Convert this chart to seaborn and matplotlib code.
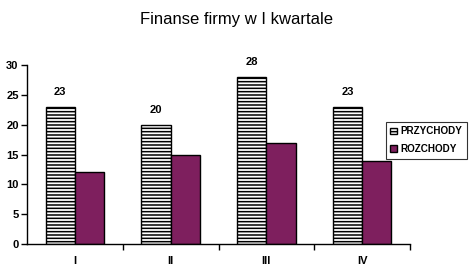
import matplotlib
matplotlib.use("Agg")
import matplotlib.pyplot as plt
import seaborn as sns
import pandas as pd
import numpy as np
from matplotlib.ticker import FixedLocator

quarters = ["I", "II", "III", "IV"]
przychody = [23, 20, 28, 23]
rozchody = [12, 15, 17, 14]
series = ["PRZYCHODY", "ROZCHODY"]

df = pd.DataFrame({
    "q": quarters * 2,
    "value": przychody + rozchody,
    "series": [series[0]] * 4 + [series[1]] * 4,
})

sns.set_style("white")
plt.rcParams["font.family"] = ["Liberation Sans", "DejaVu Sans"]
plt.rcParams["hatch.linewidth"] = 1.1
plt.rcParams["hatch.color"] = "black"
plt.rcParams["text.color"] = "black"
plt.rcParams["xtick.color"] = "black"
plt.rcParams["ytick.color"] = "black"
plt.rcParams["xtick.labelcolor"] = "black"
plt.rcParams["ytick.labelcolor"] = "black"

fig = plt.figure(figsize=(4.73, 2.76), dpi=100)
ax = fig.add_axes([0.057, 0.116, 0.810, 0.648])

palette = {series[0]: "white", series[1]: "#7E1F5E"}
sns.barplot(data=df, x="q", y="value", hue="series", palette=palette,
            width=0.61, edgecolor="black", linewidth=1.0, ax=ax,
            legend=True, saturation=1)

HATCH = "-----"
for bar in ax.containers[0]:
    bar.set_hatch(HATCH)

ax.bar_label(ax.containers[0], labels=[str(v) for v in przychody],
             padding=7, fontsize=8, fontweight="bold", color="black")

ax.set_ylim(0, 30)
ax.set_xlim(-0.5, 3.5)
ax.set_yticks([0, 5, 10, 15, 20, 25, 30])
ax.set_xlabel("")
ax.set_ylabel("")
for lab in ax.get_yticklabels() + ax.get_xticklabels():
    lab.set_fontweight("bold")
    lab.set_fontsize(8)
    lab.set_color("black")
ax.tick_params(axis="y", which="major", length=4, width=1, direction="out", left=True, pad=2)
ax.tick_params(axis="x", which="major", length=0, pad=9)
ax.xaxis.set_minor_locator(FixedLocator([0.5, 1.5, 2.5, 3.5]))
ax.tick_params(axis="x", which="minor", length=4, width=1, direction="out", bottom=True)
for s in ["top", "right"]:
    ax.spines[s].set_visible(False)
for s in ["left", "bottom"]:
    ax.spines[s].set_color("black")
    ax.spines[s].set_linewidth(1.0)

fig.suptitle("Finanse firmy w I kwartale", y=0.955, fontsize=12, color="black")

leg = ax.legend(loc="upper left", bbox_to_anchor=(0.816, 0.558),
                bbox_transform=fig.transFigure, frameon=True, fancybox=False,
                edgecolor="black", handlelength=0.7, handleheight=0.7,
                handletextpad=0.3, borderpad=0.45, labelspacing=0.8,
                borderaxespad=0.0,
                prop={"weight": "bold", "size": 7.1})
leg.get_frame().set_linewidth(0.8)
for t in leg.get_texts():
    t.set_color("black")
for h in leg.legend_handles:
    h.set_edgecolor("black")
leg.legend_handles[0].set_hatch(HATCH)

fig.savefig("out.png", dpi=100)
